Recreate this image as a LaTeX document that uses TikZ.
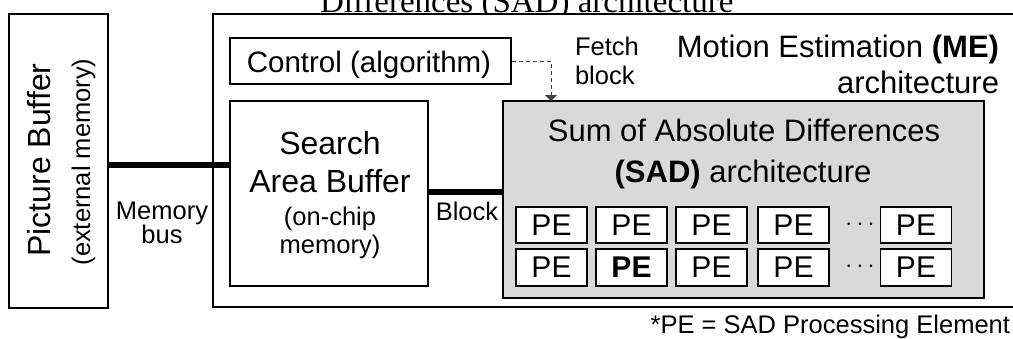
\documentclass[tikz,border=0pt]{standalone}
\usepackage{fontspec}
\setmainfont{Liberation Sans}
\newfontfamily\titleserif{Liberation Serif}
\usetikzlibrary{arrows.meta}

\tikzset{
  blk/.style={draw=black, line width=1.8pt, inner sep=0pt, fill=white},
  bus/.style={line width=5.5pt},
  txt/.style={inner sep=0pt, outer sep=0pt},
  big/.style={txt, font=\fontsize{32}{36}\selectfont},
  mid/.style={txt, font=\fontsize{31}{35}\selectfont},
  small/.style={txt, font=\fontsize{25.5}{28}\selectfont},
  pebox/.style={blk, minimum width=71pt, minimum height=36pt, font=\fontsize{30}{34}\selectfont},
  ctrlline/.style={draw=black!75, line width=1pt, dash pattern=on 4pt off 3pt,
    -{Triangle[length=6pt,width=12pt]}},
}

\begin{document}
\begin{tikzpicture}[x=1pt,y=-1pt]
\useasboundingbox (0,0) rectangle (1013,338);
\clip (0,0) rectangle (1013,338);

% heading of the figure above
\node[txt, anchor=base west, font=\titleserif\fontsize{33}{36}\selectfont] (title) at (320,12) {Differences (SAD) architecture};

% external picture buffer
\node[blk, minimum width=99pt, minimum height=294pt] (pb) at (58.5,161) {};
\node[txt, rotate=90, anchor=base, font=\fontsize{32}{36}\selectfont] (pbt) at (50,160) {Picture Buffer};
\node[small, rotate=90, anchor=base] (pbs) at (90,162) {(external memory)};

% motion estimation block (runs off the right side)
\node[blk, minimum width=817pt, minimum height=293pt] (me) at (621.5,160.5) {};
\node[mid, anchor=base east] (met) at (999,57) {Motion Estimation \textbf{(ME)}};
\node[mid, anchor=base east] (mea) at (999,93) {architecture};

% control unit
\node[blk, minimum width=281pt, minimum height=46pt] (ctrl) at (370.5,61) {};
\node[txt, font=\fontsize{29.5}{33}\selectfont, anchor=base] (ctrlt) at (369,72) {Control (algorithm)};

% search area buffer
\node[blk, minimum width=198pt, minimum height=185pt] (sab) at (329,193.5) {};
\node[big, anchor=base] (sab1) at (330,154) {Search};
\node[big, anchor=base] (sab2) at (330,192) {Area Buffer};
\node[small, anchor=base] (sab3) at (330,225) {(on-chip};
\node[small, anchor=base] (sab4) at (330,253) {memory)};

% SAD array
\node[blk, fill=black!15, minimum width=481pt, minimum height=197pt] (sad) at (743.5,199.5) {};
\node[mid, anchor=base] (sadt) at (744,141) {Sum of Absolute Differences};
\node[mid, anchor=base] (sada) at (743,182) {\textbf{(SAD)} architecture};

% processing elements
\node[pebox] (p11) at (551.5,225) {PE};
\node[pebox] (p12) at (631.5,225) {PE};
\node[pebox] (p13) at (711.5,225) {PE};
\node[pebox] (p14) at (793.5,225) {PE};
\node[pebox] (p15) at (916,225) {PE};
\node[pebox, minimum height=37pt] (p21) at (551.5,267.5) {PE};
\node[pebox, minimum height=37pt] (p22) at (631.5,267.5) {\textbf{PE}};
\node[pebox, minimum height=37pt] (p23) at (711.5,267.5) {PE};
\node[pebox, minimum height=37pt] (p24) at (793.5,267.5) {PE};
\node[pebox, minimum height=37pt] (p25) at (916,267.5) {PE};
\node[txt, font=\fontsize{30}{34}\selectfont] (d1) at (860,225) {$\cdots$};
\node[txt, font=\fontsize{30}{34}\selectfont] (d2) at (860,267) {$\cdots$};

% connections
\draw[bus] (pb.east |- 0,165) -- (sab.west |- 0,165);
\draw[bus] (sab.east |- 0,192) -- (sad.west |- 0,192);
\coordinate (fetch) at (551,101);
\draw[ctrlline] (ctrl.east) -| (fetch);

% connection labels
\node[small, anchor=base] (mb1) at (162,219) {Memory};
\node[small, anchor=base] (mb2) at (162,243) {bus};
\node[small, anchor=base] (blkl) at (467,220) {Block};
\node[small, anchor=base west] (f1) at (575,55) {Fetch};
\node[small, anchor=base west] (f2) at (575,84) {block};

% footnote
\node[small, anchor=base east] (note) at (1010,333) {*PE = SAD Processing Element};
\end{tikzpicture}
\end{document}
